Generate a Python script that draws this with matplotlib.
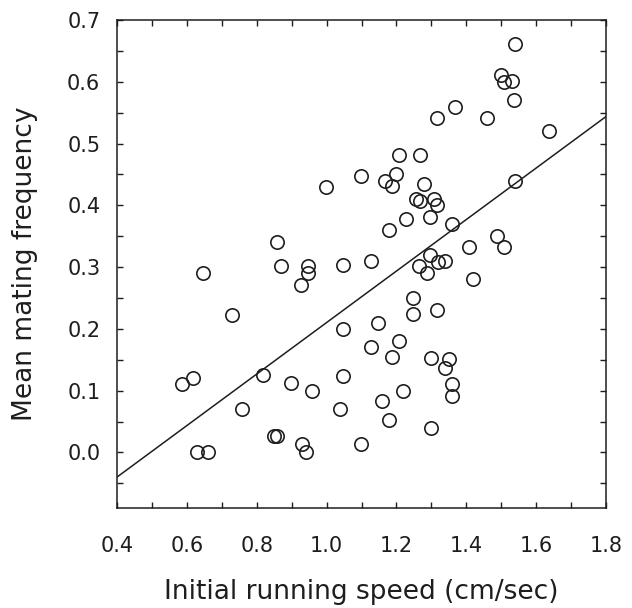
import numpy as np
import matplotlib
matplotlib.use("Agg")
import matplotlib.pyplot as plt
from matplotlib.ticker import MultipleLocator, FormatStrFormatter

# initial running speed (cm/sec)
speed = [
    0.587, 0.618, 0.630, 0.660, 0.647, 0.728, 0.758, 0.819, 0.849, 0.859,
    0.857, 0.869, 0.897, 0.929, 0.940, 0.927, 0.948, 0.948, 0.959, 0.998,
    1.038, 1.048, 1.048, 1.048, 1.099, 1.099, 1.127, 1.128, 1.148, 1.158,
    1.168, 1.178, 1.178, 1.186, 1.188, 1.199, 1.207, 1.208, 1.218, 1.227,
    1.248, 1.248, 1.256, 1.264, 1.268, 1.268, 1.279, 1.287, 1.297, 1.296,
    1.298, 1.298, 1.308, 1.317, 1.317, 1.317, 1.318, 1.339, 1.339, 1.349,
    1.359, 1.360, 1.360, 1.368, 1.409, 1.418, 1.458, 1.488, 1.498, 1.508,
    1.509, 1.530, 1.537, 1.538, 1.538, 1.638,
]
# mean mating frequency
mating = [
    0.110, 0.120, 0.000, 0.000, 0.290, 0.223, 0.070, 0.126, 0.027, 0.027,
    0.340, 0.301, 0.113, 0.014, 0.000, 0.271, 0.291, 0.301, 0.100, 0.430,
    0.070, 0.123, 0.200, 0.304, 0.013, 0.448, 0.310, 0.171, 0.210, 0.083,
    0.440, 0.360, 0.053, 0.154, 0.431, 0.451, 0.181, 0.481, 0.100, 0.378,
    0.250, 0.224, 0.410, 0.301, 0.481, 0.407, 0.435, 0.290, 0.381, 0.320,
    0.153, 0.040, 0.410, 0.401, 0.230, 0.541, 0.309, 0.310, 0.137, 0.151,
    0.370, 0.110, 0.091, 0.560, 0.332, 0.281, 0.541, 0.351, 0.611, 0.332,
    0.600, 0.601, 0.571, 0.661, 0.440, 0.521,
]

# regression line as drawn in the figure
fit_slope = 0.4171
fit_intercept = -0.2069

ink = "#1e1e1e"
plt.rcParams["font.family"] = ["DejaVu Sans"]

fig = plt.figure(figsize=(6.32, 6.08), dpi=100)
ax = fig.add_axes([0.185, 0.1645, 0.774, 0.8025])

ax.plot(speed, mating, linestyle="none", marker="o", markersize=9.6,
        markerfacecolor="none", markeredgecolor=ink, markeredgewidth=1.2,
        zorder=3)

xl = np.array([0.4, 1.8])
ax.plot(xl, fit_intercept + fit_slope * xl, color=ink, linewidth=1.1, zorder=2)

ax.set_xlim(0.4, 1.8)
ax.set_ylim(-0.09, 0.7)

ax.xaxis.set_major_locator(MultipleLocator(0.2))
ax.xaxis.set_minor_locator(MultipleLocator(0.1))
ax.yaxis.set_major_locator(MultipleLocator(0.1))
ax.yaxis.set_minor_locator(MultipleLocator(0.05))
ax.xaxis.set_major_formatter(FormatStrFormatter("%.1f"))
ax.yaxis.set_major_formatter(FormatStrFormatter("%.1f"))

ax.tick_params(which="both", direction="in", top=True, right=True,
               length=4.5, width=1.0, color=ink)
ax.tick_params(axis="x", which="major", pad=20, labelsize=15, labelcolor=ink)
ax.tick_params(axis="y", which="major", pad=12, labelsize=15, labelcolor=ink)

for s in ax.spines.values():
    s.set_linewidth(1.1)
    s.set_color(ink)

ax.set_xlabel("Initial running speed (cm/sec)", fontsize=19, color=ink,
              labelpad=17)
ax.set_ylabel("Mean mating frequency", fontsize=19, color=ink, labelpad=21)

fig.savefig("out.png", dpi=100)
